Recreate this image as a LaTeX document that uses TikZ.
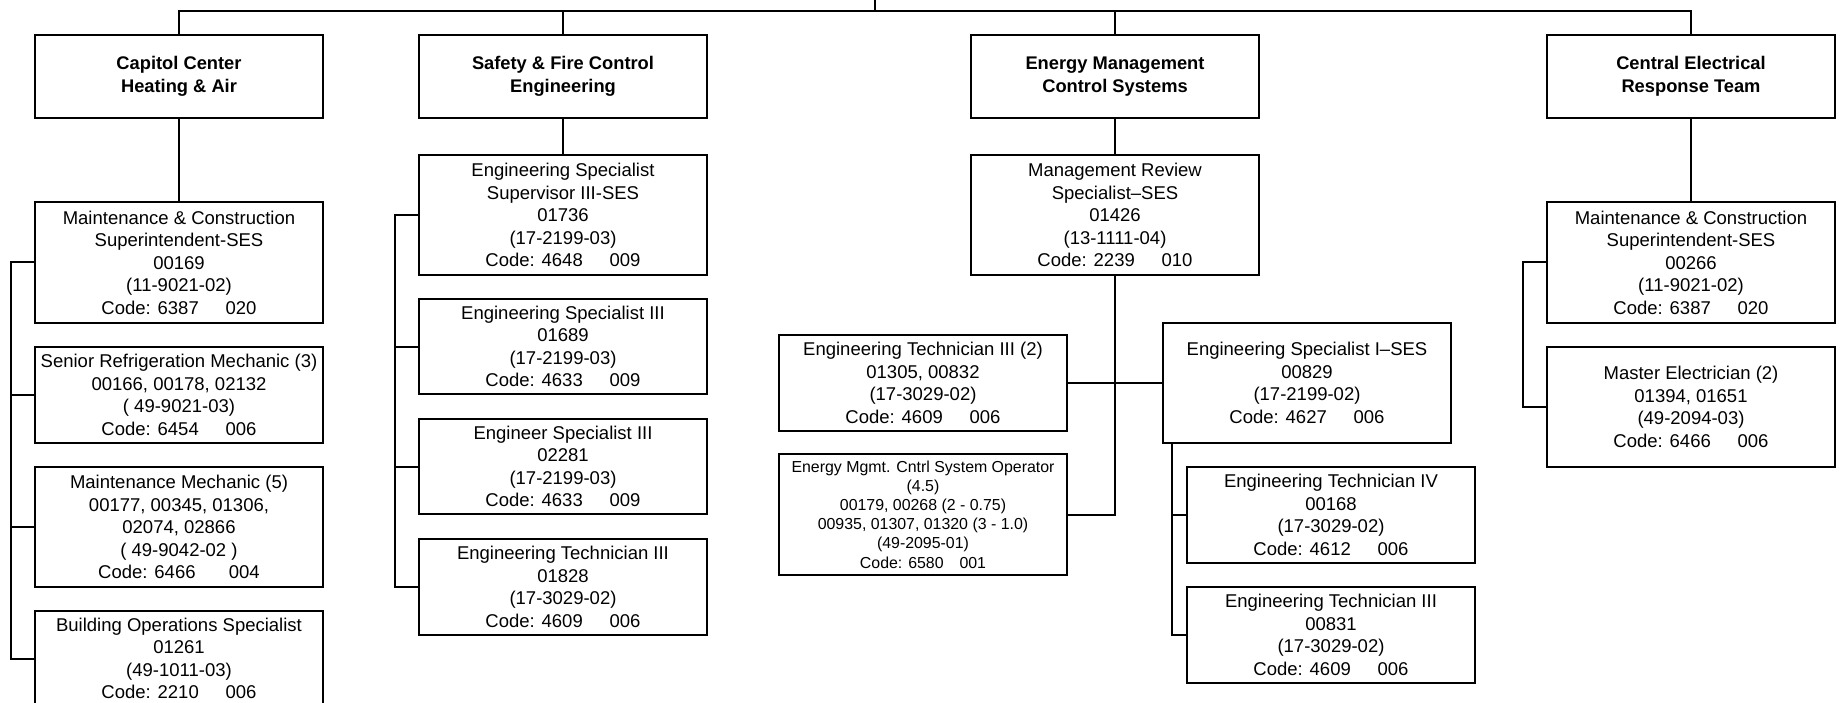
\documentclass[tikz,border=0pt]{standalone}
\usepackage{fontspec}
\setmainfont{Liberation Sans}
% gap between the job code and the grade in the last line of a box
\newcommand{\codegap}[1][1.45em]{\hspace{#1}}
\begin{document}
\begin{tikzpicture}[x=1pt,y=-1pt,
  wire/.style={line width=2pt},
  box/.style={draw, line width=2pt, rectangle, minimum width=288pt,
    inner sep=0pt, outer sep=0pt, align=center,
    font=\fontsize{18.5}{22.5}\selectfont},
  head/.style={box, minimum height=83pt,
    font=\bfseries\fontsize{18.3}{22.7}\selectfont},
  smalltext/.style={font=\fontsize{15.9}{19.2}\selectfont}
]
\useasboundingbox (0,0) rectangle (1842,703);

% section heads
\node[head] (H1) at (179,76.5) {Capitol Center\\Heating \& Air};
\node[head] (H2) at (563,76.5) {Safety \& Fire Control\\Engineering};
\node[head] (H3) at (1115,76.5) {Energy Management\\Control Systems};
\node[head] (H4) at (1691,76.5) {Central Electrical\\Response Team};

% Capitol Center Heating & Air
\node[box, minimum height=121pt] (A1) at (179,262.5)
  {Maintenance \& Construction\\Superintendent-SES\\00169\\(11-9021-02)\\Code: 6387\codegap 020};
\node[box, minimum height=96pt] (A2) at (179,395)
  {Senior Refrigeration Mechanic (3)\\00166, 00178, 02132\\( 49-9021-03)\\Code: 6454\codegap 006};
\node[box, minimum height=120pt] (A3) at (179,527)
  {Maintenance Mechanic (5)\\00177, 00345, 01306,\\02074, 02866\\( 49-9042-02 )\\Code: 6466\codegap[1.8em]004};
\node[box, minimum height=95pt] (A4) at (179,658.5)
  {Building Operations Specialist\\01261\\(49-1011-03)\\Code: 2210\codegap 006};

% Safety & Fire Control Engineering
\node[box, minimum height=120pt] (B1) at (563,215)
  {Engineering Specialist\\Supervisor III-SES\\01736\\(17-2199-03)\\Code: 4648\codegap 009};
\node[box, minimum height=95pt] (B2) at (563,346.5)
  {Engineering Specialist III\\01689\\(17-2199-03)\\Code: 4633\codegap 009};
\node[box, minimum height=95pt] (B3) at (563,466.5)
  {Engineer Specialist III\\02281\\(17-2199-03)\\Code: 4633\codegap 009};
\node[box, minimum height=96pt] (B4) at (563,587)
  {Engineering Technician III\\01828\\(17-3029-02)\\Code: 4609\codegap 006};

% Energy Management Control Systems
\node[box, minimum height=120pt] (C1) at (1115,215)
  {Management Review\\Specialist–SES\\01426\\(13-1111-04)\\Code: 2239\codegap 010};
\node[box, minimum height=96pt] (C2) at (923,383)
  {Engineering Technician III (2)\\01305, 00832\\(17-3029-02)\\Code: 4609\codegap 006};
\node[box, smalltext, minimum height=121pt] (C3) at (923,514.5)
  {Energy Mgmt. Cntrl System Operator\\(4.5)\\00179, 00268 (2 - 0.75)\\00935, 01307, 01320 (3 - 1.0)\\(49-2095-01)\\Code: 6580\codegap[1em]001};
\node[box, minimum height=120pt] (C4) at (1307,383)
  {Engineering Specialist I–SES\\00829\\(17-2199-02)\\Code: 4627\codegap 006};
\node[box, minimum height=96pt] (C5) at (1331,515)
  {Engineering Technician IV\\00168\\(17-3029-02)\\Code: 4612\codegap 006};
\node[box, minimum height=96pt] (C6) at (1331,635)
  {Engineering Technician III\\00831\\(17-3029-02)\\Code: 4609\codegap 006};

% Central Electrical Response Team
\node[box, minimum height=121pt] (D1) at (1691,262.5)
  {Maintenance \& Construction\\Superintendent-SES\\00266\\(11-9021-02)\\Code: 6387\codegap 020};
\node[box, minimum height=120pt] (D2) at (1691,407)
  {Master Electrician (2)\\01394, 01651\\(49-2094-03)\\Code: 6466\codegap 006};

% bus lines
\coordinate (root) at (875,0);
\coordinate (bar) at (0,11);
\coordinate (capbus) at (11,0);
\coordinate (safebus) at (395,0);
\coordinate (esbus) at (1172,0);
\coordinate (cbus) at (1523,0);

% top bar and drops to the section heads
\draw[wire] (H1.north) -- (H1.north |- bar) -- (H4.north |- bar) -- (H4.north);
\draw[wire] (root) -- (root |- bar);
\draw[wire] (H2.north |- bar) -- (H2.north);
\draw[wire] (H3.north |- bar) -- (H3.north);

% heads to their first positions
\draw[wire] (H1.south) -- (A1.north);
\draw[wire] (H2.south) -- (B1.north);
\draw[wire] (H3.south) -- (C1.north);
\draw[wire] (H4.south) -- (D1.north);

% Capitol Center bracket
\draw[wire] (A1.west) -- (A1.west -| capbus) -- (A4.west -| capbus) -- (A4.west);
\draw[wire] (A2.west -| capbus) -- (A2.west);
\draw[wire] (A3.west -| capbus) -- (A3.west);

% Safety bracket
\draw[wire] (B1.west) -- (B1.west -| safebus) -- (B4.west -| safebus) -- (B4.west);
\draw[wire] (B2.west -| safebus) -- (B2.west);
\draw[wire] (B3.west -| safebus) -- (B3.west);

% Energy management stem
\draw[wire] (C1.south) -- (C1.south |- C3.east) -- (C3.east);
\draw[wire] (C2.east) -- (C4.west);
\draw[wire] (C4.south -| esbus) -- (C6.west -| esbus) -- (C6.west);
\draw[wire] (C5.west -| esbus) -- (C5.west);

% Central Electrical bracket
\draw[wire] (D1.west) -- (D1.west -| cbus) -- (D2.west -| cbus) -- (D2.west);
\end{tikzpicture}
\end{document}
